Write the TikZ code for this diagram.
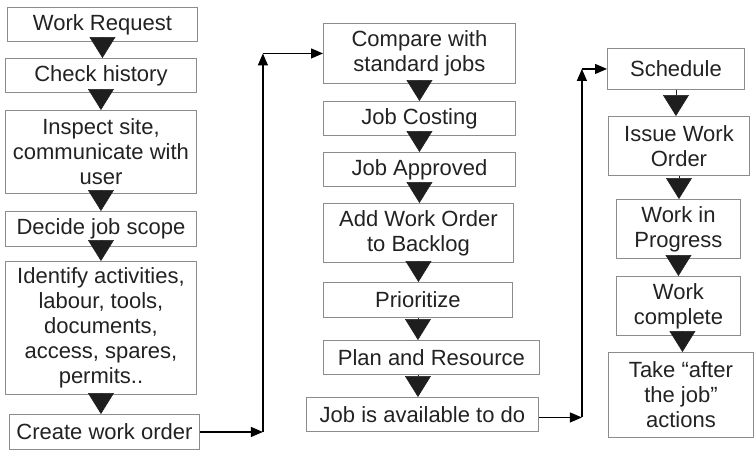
\documentclass[tikz,border=0pt]{standalone}
\usepackage{fontspec}
\setmainfont{Liberation Sans}
\usetikzlibrary{arrows.meta,calc}
\definecolor{boxgray}{HTML}{8C8C8C}
\definecolor{textdark}{HTML}{222222}
\definecolor{arrowdark}{HTML}{1E1E1E}
\begin{document}
\begin{tikzpicture}[x=1pt,y=-1pt,
  box/.style={draw=boxgray, line width=0.9pt, inner sep=0pt, anchor=north west,
    align=center, text=textdark, font=\fontsize{22}{25}\selectfont},
  bigarrow/.style={arrowdark, line width=0.5pt, -{Triangle[length=21pt,width=26pt]}},
  smallarrow/.style={black, line width=1.2pt, -{Triangle[length=12pt,width=10pt]}}]
\useasboundingbox (0,0) rectangle (754,459);
% column 1
\node[box, minimum width=190pt, minimum height=34pt] (wr) at (7,7) {Work Request};
\node[box, minimum width=191pt, minimum height=34pt] (ch) at (5,58) {Check history};
\node[box, minimum width=191pt, minimum height=83pt] (is) at (5,110) {Inspect site,\\communicate with\\user};
\node[box, minimum width=191pt, minimum height=35pt] (dj) at (5,211) {Decide job scope};
\node[box, minimum width=191pt, minimum height=133pt] (ia) at (5,261) {Identify activities,\\labour, tools,\\documents,\\access, spares,\\permits..};
\node[box, minimum width=190pt, minimum height=35pt] (cw) at (9,414) {Create work order};
% column 2
\node[box, minimum width=192pt, minimum height=60pt] (cs) at (323,23) {Compare with\\standard jobs};
\node[box, minimum width=192pt, minimum height=34pt] (jc) at (323,101) {Job Costing};
\node[box, minimum width=192pt, minimum height=34pt] (ja) at (323,152) {Job Approved};
\node[box, minimum width=190pt, minimum height=59pt] (aw) at (323,203) {Add Work Order\\to Backlog};
\node[box, minimum width=189pt, minimum height=35pt] (pr) at (323,282) {Prioritize};
\node[box, minimum width=216pt, minimum height=34pt] (pl) at (323,340) {Plan and Resource};
\node[box, minimum width=232pt, minimum height=34pt] (av) at (306,397) {Job is available to do};
% column 3
\node[box, minimum width=137pt, minimum height=41pt] (sc) at (607,48) {Schedule};
\node[box, minimum width=141pt, minimum height=59pt] (iw) at (608,116) {Issue Work\\Order};
\node[box, minimum width=124pt, minimum height=59pt] (wp) at (616,199) {Work in\\Progress};
\node[box, minimum width=124pt, minimum height=59pt] (wc) at (616,276) {Work\\complete};
\node[box, minimum width=145pt, minimum height=85pt] (ta) at (608,352) {Take “after\\the job”\\actions};
% big arrows
\draw[bigarrow] (wr.south) -- (wr.south |- ch.north);
\draw[bigarrow] (ch.south) -- (ch.south |- is.north);
\draw[bigarrow] (is.south) -- (is.south |- dj.north);
\draw[bigarrow] (dj.south) -- (dj.south |- ia.north);
\draw[bigarrow] (ia.south) -- (ia.south |- cw.north);
\draw[bigarrow] (cs.south) -- (cs.south |- jc.north);
\draw[bigarrow] (jc.south) -- (jc.south |- ja.north);
\draw[bigarrow] (ja.south) -- (ja.south |- aw.north);
\draw[bigarrow] (aw.south) -- (aw.south |- pr.north);
\draw[bigarrow] (pr.south) -- (pr.south |- pl.north);
\draw[bigarrow] (pr.south |- pl.south) -- (pr.south |- av.north);
\draw[bigarrow] (sc.south) -- (sc.south |- iw.north);
\draw[bigarrow] (iw.south) -- (iw.south |- wp.north);
\draw[bigarrow] (wp.south) -- (wp.south |- wc.north);
\draw[bigarrow] ($(wc.south)+(4,0)$) -- ($(wc.south |- ta.north)+(4,0)$);
% connectors
\path (cw.east) -- ++(63,0) coordinate (c1);
\coordinate (c2) at (c1 |- cs.west);
\draw[smallarrow] (cw.east) -- (c1);
\draw[smallarrow] (c1) -- (c2);
\draw[smallarrow] (c2) -- (cs.west);
\path (av.east) ++(0,3) coordinate (c0) -- ++(43,0) coordinate (c3);
\coordinate (c4) at (c3 |- sc.west);
\draw[smallarrow] (c0) -- (c3);
\draw[smallarrow] (c3) -- (c4);
\draw[smallarrow] (c4) -- (sc.west);
\end{tikzpicture}
\end{document}
